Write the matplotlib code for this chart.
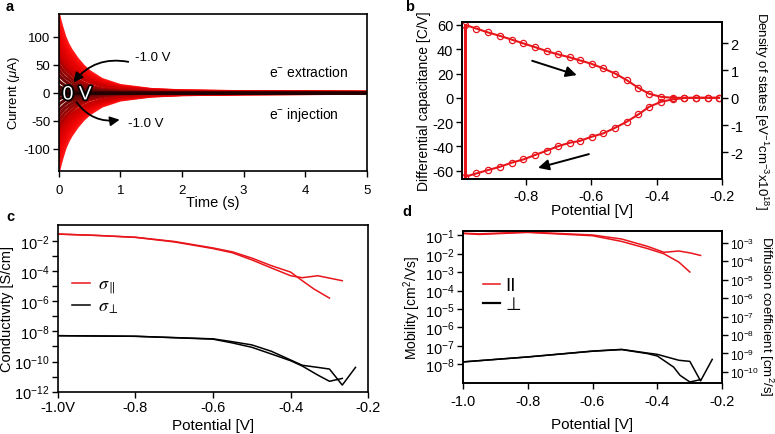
import numpy as np
import matplotlib
matplotlib.use('Agg')
import matplotlib.pyplot as plt
import matplotlib.patheffects as pe
from matplotlib.lines import Line2D
from matplotlib.ticker import FixedLocator, FuncFormatter

plt.rcParams['font.family'] = ['Liberation Sans', 'DejaVu Sans']
plt.rcParams['axes.unicode_minus'] = False
plt.rcParams['mathtext.fontset'] = 'custom'
plt.rcParams['mathtext.rm'] = 'Liberation Sans'
plt.rcParams['mathtext.it'] = 'Liberation Sans:italic'
plt.rcParams['mathtext.bf'] = 'Liberation Sans:bold'

# ---------------- data ----------------
# panel a: chronoamperometry transients (current in uA vs time in s)
time_s = [0, 0.025, 0.05, 0.1, 0.15, 0.2, 0.3, 0.4, 0.5, 0.7, 1.0, 1.5, 2.0, 3.0, 5.0]
extraction_currents = [
    [140, 128, 118, 100, 87, 77, 61, 48, 38, 24, 13, 6, 3.5, 2, 1],
    [130, 119, 110, 93, 81, 72, 57, 45, 35, 22, 12, 5.6, 3.3, 1.9, 0.9],
    [120, 110, 101, 86, 75, 66, 52, 41, 33, 21, 11, 5.2, 3, 1.7, 0.9],
    [111, 101, 93, 79, 69, 61, 48, 38, 30, 19, 10, 4.7, 2.8, 1.6, 0.8],
    [101, 92, 85, 72, 63, 55, 44, 35, 27, 17, 9.4, 4.3, 2.5, 1.4, 0.7],
    [91, 83, 77, 65, 57, 50, 40, 31, 25, 16, 8.5, 3.9, 2.3, 1.3, 0.7],
    [81, 74, 68, 58, 50, 45, 35, 28, 22, 14, 7.5, 3.5, 2, 1.2, 0.6],
    [71, 65, 60, 51, 44, 39, 31, 24, 19, 12, 6.6, 3, 1.8, 1, 0.5],
    [62, 57, 52, 44, 38, 33, 24, 18, 13, 7, 3, 1, 0.5, 0.3, 0.2],
    [52, 47, 43, 36, 31, 26, 19, 14, 10, 5.5, 2.4, 0.8, 0.4, 0.2, 0.1],
    [42, 38, 34, 28, 24, 20, 14, 10, 7.5, 4, 1.8, 0.6, 0.3, 0.2, 0.1],
    [32, 29, 26, 21, 17, 14, 10, 7, 5, 2.6, 1.2, 0.4, 0.2, 0.1, 0.1],
    [22, 19, 17, 13, 11, 9, 6, 4, 3, 1.5, 0.7, 0.3, 0.1, 0.1, 0],
    [12, 10, 9, 7, 5.5, 4.5, 3, 2, 1.4, 0.7, 0.3, 0.1, 0, 0, 0],
    [5, 4.3, 3.7, 2.8, 2.1, 1.6, 1, 0.6, 0.4, 0.2, 0.1, 0, 0, 0, 0],
]
injection_currents = [
    [-140, -128, -118, -100, -87, -77, -61, -48, -38, -24, -13, -6, -3.5, -2, -1],
    [-130, -119, -110, -93, -81, -72, -57, -45, -35, -22, -12, -5.6, -3.3, -1.9, -0.9],
    [-120, -110, -101, -86, -75, -66, -52, -41, -33, -21, -11, -5.2, -3, -1.7, -0.9],
    [-111, -101, -93, -79, -69, -61, -48, -38, -30, -19, -10, -4.7, -2.8, -1.6, -0.8],
    [-101, -92, -85, -72, -63, -55, -44, -35, -27, -17, -9.4, -4.3, -2.5, -1.4, -0.7],
    [-91, -83, -77, -65, -57, -50, -40, -31, -25, -16, -8.5, -3.9, -2.3, -1.3, -0.7],
    [-81, -74, -68, -58, -50, -45, -35, -28, -22, -14, -7.5, -3.5, -2, -1.2, -0.6],
    [-71, -65, -60, -51, -44, -39, -31, -24, -19, -12, -6.6, -3, -1.8, -1, -0.5],
    [-62, -57, -52, -44, -38, -33, -24, -18, -13, -7, -3, -1, -0.5, -0.3, -0.2],
    [-52, -47, -43, -36, -31, -26, -19, -14, -10, -5.5, -2.4, -0.8, -0.4, -0.2, -0.1],
    [-42, -38, -34, -28, -24, -20, -14, -10, -7.5, -4, -1.8, -0.6, -0.3, -0.2, -0.1],
    [-32, -29, -26, -21, -17, -14, -10, -7, -5, -2.6, -1.2, -0.4, -0.2, -0.1, -0.1],
    [-22, -19, -17, -13, -11, -9, -6, -4, -3, -1.5, -0.7, -0.3, -0.1, -0.1, 0],
    [-12, -10, -9, -7, -5.5, -4.5, -3, -2, -1.4, -0.7, -0.3, -0.1, 0, 0, 0],
    [-5, -4.3, -3.7, -2.8, -2.1, -1.6, -1, -0.6, -0.4, -0.2, -0.1, 0, 0, 0, 0],
]
zero_volt_current = [0] * 15

# panel b: differential capacitance loop
cap_potential = [-0.984, -0.950, -0.914, -0.878, -0.843, -0.807, -0.772, -0.736,
                 -0.700, -0.665, -0.634, -0.599, -0.563, -0.527, -0.492, -0.456,
                 -0.423, -0.387, -0.351, -0.316, -0.280, -0.245, -0.210]
cap_forward = [60, 57, 53.8, 51, 48, 44.8, 41.8, 38.5, 35.7, 33.3, 30.8, 28, 24.2,
               20, 14.6, 8.2, 3.3, 0.8, 0, 0, 0, 0, 0]
cap_backward = [-65, -62.3, -59.5, -56.8, -53.5, -50.8, -47.2, -43.6, -39.8, -37,
                -35.5, -32.1, -29.3, -24.7, -19.8, -13.7, -7.4, -3.3, -1.3, -0.2, 0, 0, 0]
cap_per_dos = 22.5  # C/V per 1e18 eV^-1 cm^-3

# panel c: conductivity (log10 S/cm)
sig_par_a_V = [-1.0, -0.9, -0.8, -0.7, -0.6, -0.55, -0.5, -0.45, -0.4, -0.37, -0.34, -0.30]
sig_par_a_log = [-1.56, -1.65, -1.77, -2.05, -2.48, -2.74, -3.15, -3.65, -4.08, -4.65, -5.2, -5.8]
sig_par_b_V = [-1.0, -0.9, -0.8, -0.7, -0.6, -0.55, -0.5, -0.45, -0.4, -0.37, -0.33, -0.267]
sig_par_b_log = [-1.56, -1.65, -1.78, -2.08, -2.52, -2.8, -3.27, -3.8, -4.32, -4.45, -4.32, -4.65]
sig_perp_a_V = [-1.0, -0.8, -0.6, -0.55, -0.5, -0.45, -0.4, -0.37, -0.33, -0.30, -0.267, -0.233]
sig_perp_a_log = [-8.29, -8.33, -8.5, -8.69, -8.9, -9.32, -9.9, -10.25, -10.39, -10.5, -11.56, -10.39]
sig_perp_b_V = [-1.0, -0.8, -0.6, -0.55, -0.5, -0.45, -0.4, -0.37, -0.33, -0.30, -0.267]
sig_perp_b_log = [-8.29, -8.33, -8.52, -8.77, -9.06, -9.5, -9.95, -10.3, -10.9, -11.31, -11.12]

# panel d: mobility (log10 cm^2/Vs)
mu_par_a_V = [-1.0, -0.95, -0.8, -0.6, -0.51, -0.43, -0.38, -0.334, -0.30, -0.267]
mu_par_a_log = [-0.88, -0.92, -0.82, -0.98, -1.2, -1.6, -1.92, -1.85, -1.95, -2.09]
mu_par_b_V = [-1.0, -0.95, -0.8, -0.6, -0.51, -0.43, -0.38, -0.334, -0.30]
mu_par_b_log = [-0.9, -0.95, -0.84, -1.02, -1.33, -1.72, -2.0, -2.45, -2.99]
mu_perp_a_V = [-1.0, -0.8, -0.6, -0.51, -0.43, -0.40, -0.334, -0.30, -0.267, -0.231]
mu_perp_a_log = [-7.87, -7.6, -7.28, -7.19, -7.39, -7.46, -7.78, -7.84, -8.9, -7.73]
mu_perp_b_V = [-1.0, -0.8, -0.6, -0.51, -0.43, -0.40, -0.35, -0.33, -0.30, -0.267]
mu_perp_b_log = [-7.87, -7.6, -7.29, -7.2, -7.42, -7.55, -8.15, -8.6, -8.96, -8.83]
diffusion_per_mobility = 0.0257  # kT/q in V

# ---------------- styling ----------------
RED = '#e8151b'
SPINE_W = 1.2
W, H = 775, 435


def frac(l, t, r, b):
    return [l / W, 1 - b / H, (r - l) / W, (b - t) / H]


def style(ax, right=False):
    for s in ax.spines.values():
        s.set_linewidth(SPINE_W)
    ax.tick_params(direction='out', length=4, width=1.0, pad=2,
                   top=False, right=right)


fig = plt.figure(figsize=(7.75, 4.35), dpi=100)

# ---------------- panel a ----------------
axa = fig.add_axes(frac(58.7, 15, 366.7, 172))
style(axa)
bright = ['#ff1a1a', '#fb1010', '#f50808', '#ee0505', '#e60303', '#de0202', '#d40000', '#c80000']
dark = ['#b00000', '#9a0404', '#880606', '#760606', '#640404', '#520202', '#400000']
colors_a = bright + dark
for row, c in zip(extraction_currents, colors_a):
    axa.plot(time_s, row, color=c, lw=2.2, solid_joinstyle='round')
for row, c in zip(injection_currents, colors_a):
    axa.plot(time_s, row, color=c, lw=2.2, solid_joinstyle='round')
axa.plot(time_s, zero_volt_current, color='#200000', lw=2.0)
axa.set_xlim(0, 5)
axa.set_ylim(-140, 141)
axa.set_xticks([0, 1, 2, 3, 4, 5])
axa.set_yticks([-100, -50, 0, 50, 100])
axa.tick_params(labelsize=9.5)
axa.tick_params(axis='x', pad=5)
axa.set_xlabel('Time (s)', fontsize=10.5, labelpad=0)
axa.set_ylabel(r'Current ($\mu$A)', fontsize=9.5, labelpad=1)

arrow_kw = dict(arrowstyle='-|>', color='black', lw=1.3, mutation_scale=14,
                shrinkA=0, shrinkB=0)
axa.annotate('', xy=(0.24, 18.6), xytext=(1.13, 55.4),
             arrowprops=dict(connectionstyle='arc3,rad=0.3', **arrow_kw))
axa.annotate('', xy=(0.99, -48.2), xytext=(0.29, -17),
             arrowprops=dict(connectionstyle='arc3,rad=0.3', **arrow_kw))
axa.text(1.24, 63.7, '-1.0 V', fontsize=9.5, ha='left', va='center')
axa.text(1.12, -54, '-1.0 V', fontsize=9.5, ha='left', va='center')
axa.text(0.30, -4, '0 V', fontsize=14, color='white', ha='center', va='center',
         path_effects=[pe.withStroke(linewidth=2.5, foreground='black')])
axa.text(3.42, 37.5, r'e$^{-}$ extraction', fontsize=10, ha='left', va='center')
axa.text(3.42, -38, r'e$^{-}$ injection', fontsize=10, ha='left', va='center')

# ---------------- panel b ----------------
axb = fig.add_axes(frac(461.7, 23.3, 722.3, 180))
style(axb)
axb.plot(cap_potential, cap_forward, color=RED, lw=1.5, marker='o', ms=4.5,
         mfc='none', mec=RED, mew=0.9)
axb.plot(cap_potential, cap_backward, color=RED, lw=1.5, marker='o', ms=4.5,
         mfc='none', mec=RED, mew=0.9)
axb.plot([cap_potential[0], cap_potential[0]], [cap_backward[0], cap_forward[0]],
         color=RED, lw=2.2)
axb.set_xlim(-0.995, -0.2)
axb.set_ylim(-66.9, 62.2)
axb.set_xticks([-0.8, -0.6, -0.4, -0.2])
axb.set_yticks([-60, -40, -20, 0, 20, 40, 60])
axb.tick_params(labelsize=10.5)
axb.tick_params(axis='x', pad=3)
axb.set_xlabel('Potential [V]', fontsize=11, labelpad=0)
axb.set_ylabel('Differential capacitance [C/V]', fontsize=10, labelpad=1)
axb2 = axb.twinx()
style(axb2, right=True)
axb2.set_ylim(-66.9 / cap_per_dos, 62.2 / cap_per_dos)
axb2.set_yticks([-2, -1, 0, 1, 2])
axb2.tick_params(labelsize=10.5)
axb2.set_ylabel(r'Density of states [eV$^{-1}$cm$^{-3}$x10$^{18}$]', fontsize=9.5,
                rotation=270, va='bottom')
axb2.yaxis.set_label_coords((752 - 461.7) / (722.3 - 461.7), 0.44)
axb.annotate('', xy=(-0.644, 18.7), xytext=(-0.78, 30.5),
             arrowprops=dict(arrowstyle='-|>', color='black', lw=1.4,
                             mutation_scale=16, shrinkA=0, shrinkB=0))
axb.annotate('', xy=(-0.762, -57.7), xytext=(-0.607, -46.4),
             arrowprops=dict(arrowstyle='-|>', color='black', lw=1.4,
                             mutation_scale=16, shrinkA=0, shrinkB=0))

# ---------------- panel c ----------------
axc = fig.add_axes(frac(57.7, 226, 368.3, 392.7))
style(axc)
axc.set_yscale('log')
axc.plot(sig_par_a_V, 10.0 ** np.array(sig_par_a_log), color=RED, lw=1.1)
axc.plot(sig_par_b_V, 10.0 ** np.array(sig_par_b_log), color=RED, lw=1.1)
axc.plot(sig_perp_a_V, 10.0 ** np.array(sig_perp_a_log), color='black', lw=1.1)
axc.plot(sig_perp_b_V, 10.0 ** np.array(sig_perp_b_log), color='black', lw=1.1)
axc.set_xlim(-1.0, -0.2)
axc.set_ylim(1e-12, 10 ** -0.96)
axc.yaxis.set_major_locator(FixedLocator([10.0 ** k for k in range(-12, -1)]))
axc.yaxis.set_minor_locator(FixedLocator([]))
axc.yaxis.set_major_formatter(FuncFormatter(
    lambda v, p: (r'$10^{%d}$' % round(np.log10(v))) if round(np.log10(v)) % 2 == 0 else ''))
axc.set_xticks([-1.0, -0.8, -0.6, -0.4, -0.2])
axc.set_xticklabels(['-1.0V', '-0.8', '-0.6', '-0.4', '-0.2'])
axc.tick_params(labelsize=10.5)
axc.set_xlabel('Potential [V]', fontsize=11, labelpad=3)
axc.set_ylabel('Conductivity [S/cm]', fontsize=10.5, labelpad=0)
legc = axc.legend([Line2D([], [], color=RED, lw=1.1), Line2D([], [], color='black', lw=1.1)],
                  [r'$\sigma_{\parallel}$', r'$\sigma_{\perp}$'],
                  loc='center left', bbox_to_anchor=(0.046, 0.575), frameon=False,
                  fontsize=13, handlelength=1.0, handletextpad=0.45,
                  labelspacing=0.1, borderpad=0, borderaxespad=0)
for t in legc.get_texts():
    t.set_math_fontfamily('stix')

# ---------------- panel d ----------------
axd = fig.add_axes(frac(462.7, 232.3, 722.3, 384.3))
style(axd)
axd.set_yscale('log')
axd.plot(mu_par_a_V, 10.0 ** np.array(mu_par_a_log), color=RED, lw=1.1)
axd.plot(mu_par_b_V, 10.0 ** np.array(mu_par_b_log), color=RED, lw=1.1)
axd.plot(mu_perp_a_V, 10.0 ** np.array(mu_perp_a_log), color='black', lw=1.1)
axd.plot(mu_perp_b_V, 10.0 ** np.array(mu_perp_b_log), color='black', lw=1.1)
axd.set_xlim(-1.0, -0.2)
ylo, yhi = 10 ** -9.03, 10 ** -0.78
axd.set_ylim(ylo, yhi)
axd.yaxis.set_major_locator(FixedLocator([10.0 ** k for k in range(-8, 0)]))
axd.yaxis.set_minor_locator(FixedLocator([]))
axd.yaxis.set_major_formatter(FuncFormatter(lambda v, p: r'$10^{%d}$' % round(np.log10(v))))
axd.set_xticks([-1.0, -0.8, -0.6, -0.4, -0.2])
axd.set_xticklabels(['-1.0', '-0.8', '-0.6', '-0.4', '-0.2'])
axd.tick_params(labelsize=10.5)
axd.tick_params(axis='x', pad=4)
axd.set_xlabel('Potential [V]', fontsize=11, labelpad=6)
axd.set_ylabel(r'Mobility [cm$^2$/Vs]', fontsize=10, labelpad=1)
axd2 = axd.twinx()
style(axd2, right=True)
axd2.set_yscale('log')
axd2.set_ylim(ylo * diffusion_per_mobility, yhi * diffusion_per_mobility)
axd2.yaxis.set_major_locator(FixedLocator([10.0 ** k for k in range(-10, -2)]))
axd2.yaxis.set_minor_locator(FixedLocator([]))
axd2.yaxis.set_major_formatter(FuncFormatter(lambda v, p: r'$10^{%d}$' % round(np.log10(v))))
axd2.tick_params(labelsize=8.5, pad=1.5)
axd2.set_ylabel(r'Diffusion coefficient [cm$^2$/s]', fontsize=9.5,
                rotation=270, va='bottom')
axd2.yaxis.set_label_coords((757 - 462.7) / (722.3 - 462.7), 0.45)
axd.legend([Line2D([], [], color=RED, lw=1.1), Line2D([], [], color='black', lw=1.6)],
           ['II', '⊥'], loc='center left', bbox_to_anchor=(0.077, 0.582),
           frameon=False, handlelength=0.95, handletextpad=0.3,
           labelspacing=0.05, borderpad=0, borderaxespad=0,
           prop={'family': ['DejaVu Sans'], 'size': 13})

# panel letters
for letter, x, y in [('a', 10, 7), ('b', 410, 7), ('c', 10, 217), ('d', 407, 212)]:
    fig.text(x / W, 1 - y / H, letter, fontsize=10.5, fontweight='bold',
             ha='center', va='center')

fig.savefig('out.png', dpi=100)
